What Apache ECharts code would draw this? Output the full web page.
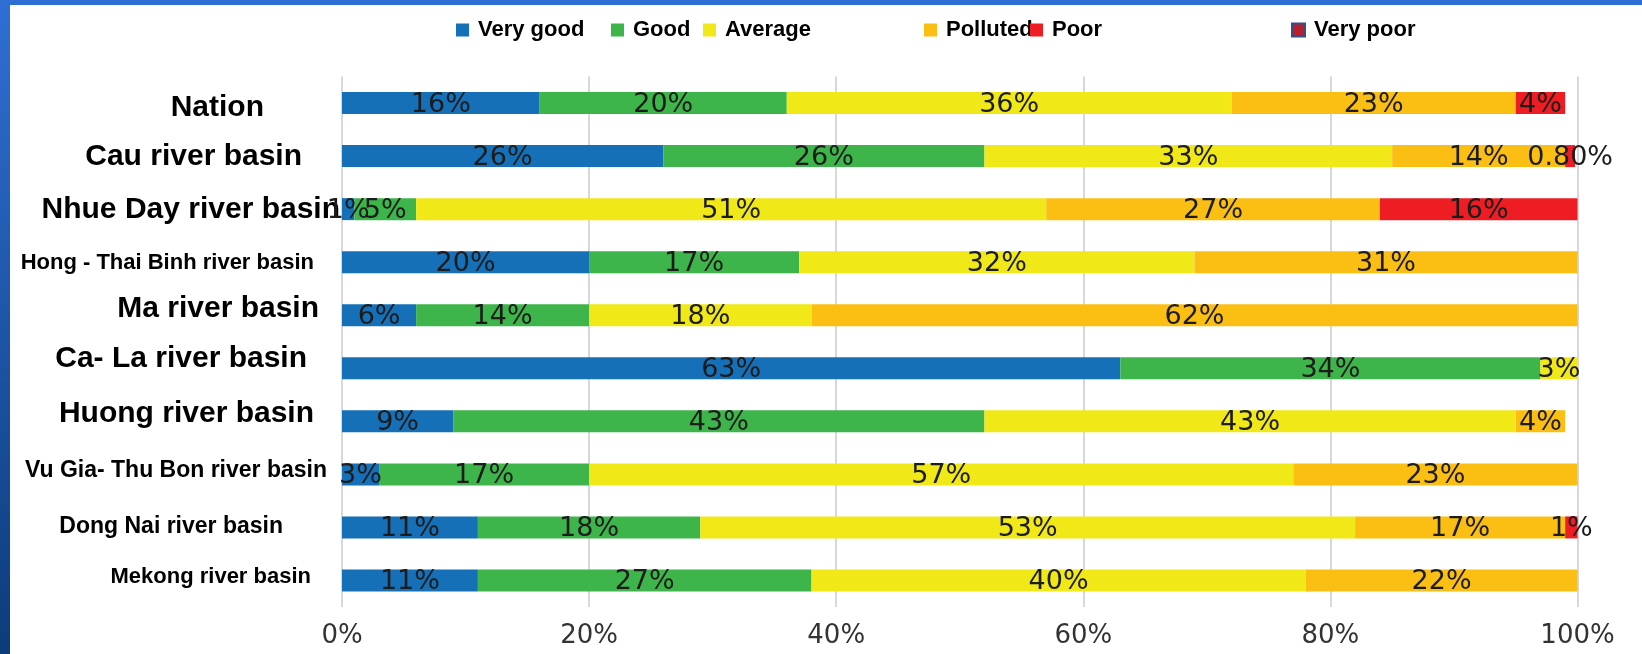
<!DOCTYPE html>
<html>
<head>
<meta charset="utf-8">
<script src="https://cdn.jsdelivr.net/npm/echarts@6/dist/echarts.min.js"></script>
<style>
  html, body { margin: 0; padding: 0; width: 1642px; height: 654px; overflow: hidden; }
  body { background: linear-gradient(#2f6fd4, #0c3c7a); position: relative; }
  #paper { position: absolute; left: 10px; top: 5px; right: 0; bottom: 0; background: #fff; }
  #main { position: absolute; left: 0; top: 0; width: 1642px; height: 654px; }
</style>
</head>
<body>
<div id="paper"></div>
<div id="main"></div>
<script>
// river basins, top to bottom
var categories = ['Nation', 'Cau river basin', 'Nhue Day river basin', 'Hong - Thai Binh river basin',
  'Ma river basin', 'Ca- La river basin', 'Huong river basin', 'Vu Gia- Thu Bon river basin',
  'Dong Nai river basin', 'Mekong river basin'];

// share of monitoring points (%) per water quality class
var veryGood = [16, 26, 1, 20, 6, 63, 9, 3, 11, 11];
var good     = [20, 26, 5, 17, 14, 34, 43, 17, 18, 27];
var average  = [36, 33, 51, 32, 18, 3, 43, 57, 53, 40];
var polluted = [23, 14, 27, 31, 62, '-', 4, 23, 17, 22];
var poor     = [4, 0.8, 16, '-', '-', '-', '-', '-', 1, '-'];
var veryPoor = ['-', '-', '-', '-', '-', '-', '-', '-', '-', '-'];

var xTicks = [0, 20, 40, 60, 80, 100];

// label look for each basin name (size, gap to axis, vertical shift)
var nameSize  = [30, 30, 30, 22, 30, 30, 30, 23, 23, 22];
var nameGap   = [78, 40, 2, 28, 23, 35, 28, 15, 59, 31];
var nameShift = [5, 1, 1, 1, -6, -10, -8, -4, -1, -4];

var colors = ['#1570b8', '#3db54a', '#f1e817', '#fbbf14', '#ee1d24', '#b8212b'];
var names = ['Very good', 'Good', 'Average', 'Polluted', 'Poor', 'Very poor'];
var seriesData = [veryGood, good, average, polluted, poor, veryPoor];
var legendLeft = [451, 606, 698, 919, 1025, 1286];

var rich = {};
categories.forEach(function (c, i) {
  var s = nameShift[i];
  rich['n' + i] = {
    fontSize: nameSize[i],
    fontWeight: 'bold',
    color: '#000',
    fontFamily: 'Liberation Sans, Arial, sans-serif',
    padding: [s > 0 ? 2 * s : 0, nameGap[i], s < 0 ? -2 * s : 0, 0]
  };
});

var myChart = echarts.init(document.getElementById('main'));

var option = {
  backgroundColor: 'transparent',
  animation: false,
  legend: names.map(function (n, i) {
    var item = { name: n };
    if (n === 'Very poor') item.itemStyle = { borderColor: '#31508c', borderWidth: 2 };
    return {
      data: [item],
      left: legendLeft[i],
      top: 14,
      icon: 'rect',
      itemWidth: 13,
      itemHeight: 13,
      selectedMode: false,
      textStyle: {
        fontSize: 22,
        fontWeight: 'bold',
        color: '#000',
        fontFamily: 'Liberation Sans, Arial, sans-serif',
        padding: [0, 0, 0, 4]
      }
    };
  }),
  grid: { left: 342, right: 64.5, top: 76.5, bottom: 47 },
  xAxis: {
    type: 'value',
    min: xTicks[0],
    max: xTicks[xTicks.length - 1],
    interval: 20,
    axisLine: { show: false },
    axisTick: { show: false },
    splitLine: { lineStyle: { color: '#d8d8d8', width: 2 } },
    axisLabel: {
      formatter: '{value}%',
      fontSize: 26,
      color: '#333',
      margin: 16,
      fontFamily: 'DejaVu Sans, sans-serif'
    }
  },
  yAxis: {
    type: 'category',
    inverse: true,
    data: categories,
    axisLine: { show: false },
    axisTick: { show: false },
    axisLabel: {
      margin: 0,
      formatter: function (v) {
        return '{n' + categories.indexOf(v) + '|' + v + '}';
      },
      rich: rich
    }
  },
  series: names.map(function (n, i) {
    return {
      name: n,
      type: 'bar',
      stack: 'all',
      barWidth: 22,
      data: seriesData[i],
      itemStyle: { color: colors[i] },
      label: {
        show: true,
        position: 'inside',
        offset: [0, 2],
        color: '#1c1c1c',
        fontSize: 27,
        fontFamily: 'DejaVu Sans, sans-serif',
        formatter: function (p) {
          var v = p.value;
          return (Number.isInteger(v) ? v : v.toFixed(2)) + '%';
        }
      }
    };
  })
};

myChart.setOption(option);
</script>
</body>
</html>
